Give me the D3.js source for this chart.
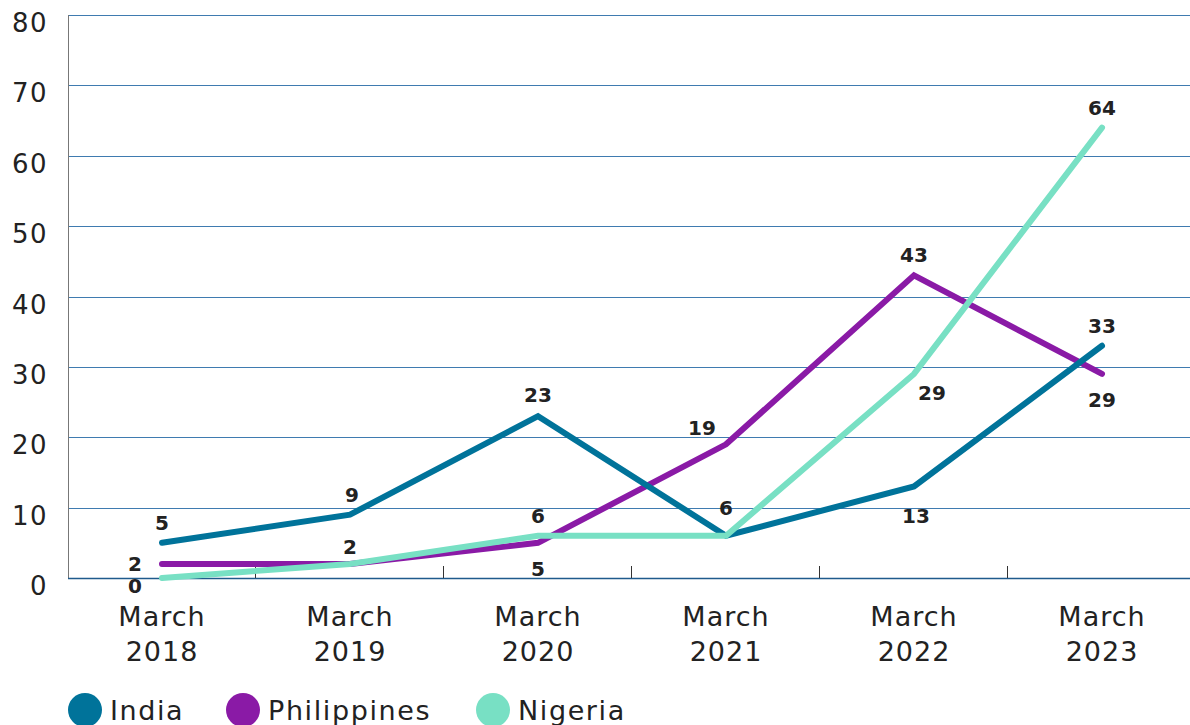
<!DOCTYPE html>
<html>
<head>
<meta charset="utf-8">
<script src="https://cdn.jsdelivr.net/npm/d3@7"></script>
<style>
  html, body { margin: 0; padding: 0; background: #fff; }
  svg { display: block; }
  text { font-family: "DejaVu Sans", "Noto Sans", sans-serif; }
</style>
</head>
<body>
<svg id="chart" width="1190" height="725"></svg>
<script>
const categories = ["March 2018", "March 2019", "March 2020", "March 2021", "March 2022", "March 2023"];
const seriesNames = ["India", "Philippines", "Nigeria"];
const india = [5, 9, 23, 6, 13, 33];
const philippines = [2, 2, 5, 19, 43, 29];
const nigeria = [0, 2, 6, 6, 29, 64];
const yTicks = [0, 10, 20, 30, 40, 50, 60, 70, 80];
const colors = ["#00739a", "#8a1aa6", "#78e0c4"];

// label placement per series/point: [dx, dy] relative to the point, null = no label
const labelOffsets = {
  India: [[0, -13], [2, -13], [0, -14], [0, -21], [2, 36], [0, -13]],
  Philippines: [[-27, 7], [0, -10], [0, 33], [-24, -9], [0, -13], [0, 33]],
  Nigeria: [[-27, 15], null, [0, -13], null, [18, 26], [0, -13]]
};

const svg = d3.select("#chart");
const W = 1190, H = 725;
const plotLeft = 68, plotTop = 15, plotBottom = 578, bandRight = 1196;

const x = d3.scaleBand().domain(categories).range([plotLeft, bandRight]);
const y = d3.scaleLinear().domain([0, 80]).range([plotBottom, plotTop]);

// gridlines
svg.append("g").selectAll("line").data(yTicks.filter(d => d > 0)).join("line")
  .attr("x1", plotLeft).attr("x2", W)
  .attr("y1", d => Math.round(y(d)) + 0.5).attr("y2", d => Math.round(y(d)) + 0.5)
  .attr("stroke", "#3f7bb0").attr("stroke-width", 1.2);

// y axis labels
svg.append("g").selectAll("text").data(yTicks).join("text")
  .attr("x", 48).attr("y", d => y(d) + 17)
  .attr("text-anchor", "end")
  .attr("font-size", 26).attr("letter-spacing", 1.5).attr("fill", "#222")
  .text(d => d);

// left axis line
svg.append("line")
  .attr("x1", plotLeft + 0.5).attr("x2", plotLeft + 0.5)
  .attr("y1", y(80)).attr("y2", y(0))
  .attr("stroke", "#777").attr("stroke-width", 1);

// x axis baseline
svg.append("line")
  .attr("x1", plotLeft).attr("x2", W)
  .attr("y1", Math.round(y(0)) + 0.5).attr("y2", Math.round(y(0)) + 0.5)
  .attr("stroke", "#1f5a8c").attr("stroke-width", 1.5);

// x ticks at band boundaries
const boundaries = categories.slice(1).map(c => x(c) - 1);
svg.append("g").selectAll("line").data(boundaries).join("line")
  .attr("x1", d => Math.round(d) + 0.5).attr("x2", d => Math.round(d) + 0.5)
  .attr("y1", y(0) - 12).attr("y2", y(0))
  .attr("stroke", "#333").attr("stroke-width", 1);

// x labels
const xl = svg.append("g").selectAll("text").data(categories).join("text")
  .attr("text-anchor", "middle")
  .attr("font-size", 27).attr("letter-spacing", 1).attr("fill", "#222");
xl.append("tspan").attr("x", d => x(d) + x.bandwidth() / 2).attr("y", 626).text(d => d.split(" ")[0]);
xl.append("tspan").attr("x", d => x(d) + x.bandwidth() / 2).attr("y", 661).text(d => d.split(" ")[1]);

// lines
const seriesData = { India: india, Philippines: philippines, Nigeria: nigeria };
const drawOrder = ["Philippines", "India", "Nigeria"];
const line = d3.line()
  .x((d, i) => x(categories[i]) + x.bandwidth() / 2)
  .y(d => y(d));

drawOrder.forEach(name => {
  const idx = seriesNames.indexOf(name);
  svg.append("path")
    .datum(seriesData[name])
    .attr("d", line)
    .attr("fill", "none")
    .attr("stroke", colors[idx])
    .attr("stroke-width", 6)
    .attr("stroke-linecap", "round")
    .attr("stroke-linejoin", "miter");
});

// data labels
seriesNames.forEach(name => {
  const vals = seriesData[name];
  const offs = labelOffsets[name];
  const g = svg.append("g");
  vals.forEach((v, i) => {
    const o = offs[i];
    if (!o) return;
    g.append("text")
      .attr("x", x(categories[i]) + x.bandwidth() / 2 + o[0])
      .attr("y", y(v) + o[1])
      .attr("text-anchor", "middle")
      .attr("font-size", 20).attr("font-weight", "bold")
      .attr("fill", "#222")
      .text(v);
  });
});

// legend
const legendX = [85, 243, 493];
const lg = svg.append("g");
seriesNames.forEach((name, i) => {
  lg.append("circle").attr("cx", legendX[i]).attr("cy", 710).attr("r", 17).attr("fill", colors[i]);
  lg.append("text").attr("x", legendX[i] + 25).attr("y", 720)
    .attr("font-size", 27).attr("letter-spacing", 1.6).attr("fill", "#222").text(name);
});
</script>
</body>
</html>
